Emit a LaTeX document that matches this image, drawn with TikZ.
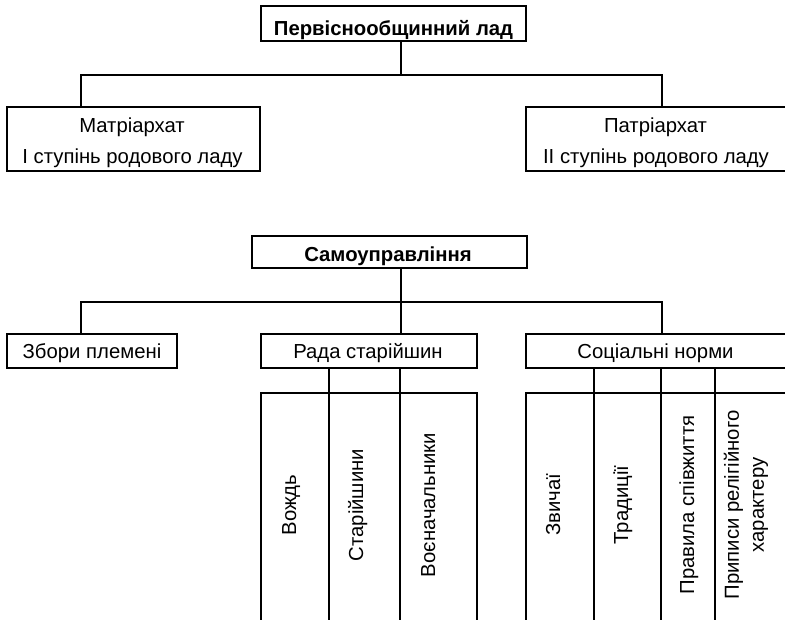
\documentclass[tikz,border=0pt]{standalone}
\usepackage{fontspec}
\setmainfont{Liberation Sans}
\begin{document}
\begin{tikzpicture}[x=1pt,y=-1pt,
  box/.style={draw, line width=2pt, rectangle, inner sep=0pt, outer sep=0pt},
  conn/.style={line width=2pt, line join=miter},
  txt/.style={inner sep=0pt, font=\fontsize{20.3}{24}\selectfont, anchor=base},
  btxt/.style={inner sep=0pt, font=\fontsize{20.3}{24}\selectfont\bfseries, anchor=base},
  vtxt/.style={txt, rotate=90},
  vtxt2/.style={inner sep=0pt, font=\fontsize{20.3}{25}\selectfont, align=center, rotate=90, anchor=center}]
\useasboundingbox (0,0) rectangle (785,619);

% ---------- first tree ----------
\node[box, minimum width=265pt, minimum height=35pt] (perv) at (393.5,23.5) {};
\node[btxt] (pervt) at (393.5,35.5) {Первіснообщинний лад};

\node[box, minimum width=253pt, minimum height=64pt] (matr) at (133.5,139) {};
\node[txt] (matrt1) at (132,132) {Матріархат};
\node[txt] (matrt2) at (132.5,163) {І ступінь родового ладу};

\node[box, minimum width=262pt, minimum height=64pt] (patr) at (657,139) {};
\node[txt] (patrt1) at (655.5,132) {Патріархат};
\node[txt] (patrt2) at (656,163) {ІІ ступінь родового ладу};

\coordinate (j1) at (401,75);
\coordinate (h1L) at (81,75);
\coordinate (h1R) at (662,75);
\draw[conn] (j1 |- perv.south) -- (j1);
\draw[conn] (h1L |- matr.north) -- (h1L) -- (h1R) -- (h1R |- patr.north);

% ---------- second tree ----------
\node[box, minimum width=275pt, minimum height=32pt] (samo) at (389.5,252) {};
\node[btxt] (samot) at (388,261) {Самоуправління};

\node[box, minimum width=170pt, minimum height=34pt] (zbory) at (92,351) {};
\node[txt] (zboryt) at (92,358.5) {Збори племені};

\node[box, minimum width=216pt, minimum height=34pt] (rada) at (369,351) {};
\node[txt] (radat) at (368,358.5) {Рада старійшин};

\node[box, minimum width=262pt, minimum height=34pt] (soc) at (657,351) {};
\node[txt] (soct) at (655.5,358.5) {Соціальні норми};

\coordinate (j2) at (401,302);
\coordinate (h2L) at (81,302);
\coordinate (h2R) at (662,302);
\draw[conn] (j2 |- samo.south) -- (j2);
\draw[conn] (h2L |- zbory.north) -- (h2L) -- (h2R) -- (h2R |- soc.north);
\draw[conn] (j2) -- (j2 |- rada.north);

% ---------- sub-blocks (open at the bottom edge) ----------
\node[box, minimum width=68pt, minimum height=240pt] (vozhd) at (295,513) {};
\node[box, minimum width=71pt, minimum height=240pt] (star) at (364.5,513) {};
\node[box, minimum width=77pt, minimum height=240pt] (voen) at (438.5,513) {};

\node[box, minimum width=68pt, minimum height=240pt] (zvych) at (560,513) {};
\node[box, minimum width=67pt, minimum height=240pt] (trad) at (627.5,513) {};
\node[box, minimum width=54pt, minimum height=240pt] (prav) at (688,513) {};
\node[box, minimum width=71pt, minimum height=240pt] (prip) at (750.5,513) {};

\draw[conn] (rada.south -| vozhd.east) -- (vozhd.north east);
\draw[conn] (rada.south -| star.east) -- (star.north east);
\draw[conn] (soc.south -| zvych.east) -- (zvych.north east);
\draw[conn] (soc.south -| trad.east) -- (trad.north east);
\draw[conn] (soc.south -| prav.east) -- (prav.north east);

\node[vtxt] (vozhdt) at (296,505) {Вождь};
\node[vtxt] (start) at (363,505) {Старійшини};
\node[vtxt] (voent) at (435,505) {Воєначальники};
\node[vtxt] (zvycht) at (560,505) {Звичаї};
\node[vtxt] (tradt) at (628,505) {Традиції};
\node[vtxt] (pravt) at (694,505) {Правила співжиття};
\node[vtxt2] (ript) at (746,505) {Приписи релігійного\\характеру};
\end{tikzpicture}
\end{document}
